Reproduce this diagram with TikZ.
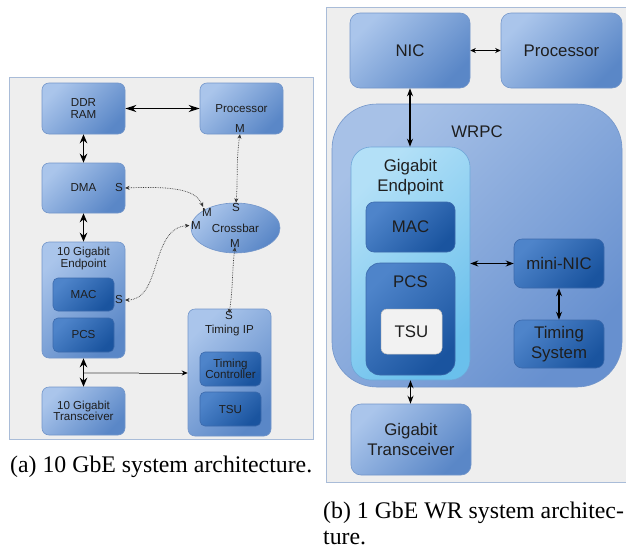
\documentclass[tikz,border=0pt]{standalone}
\usepackage{fontspec}
\setmainfont{Liberation Serif}
\newfontfamily\lsans{Liberation Sans}
\usetikzlibrary{arrows.meta,shapes.geometric,calc}
\definecolor{bgpanel}{HTML}{EEEEEE}
\definecolor{panelborder}{HTML}{A9BCD8}
\definecolor{boxA}{HTML}{AAC5EB}
\definecolor{boxB}{HTML}{5A87C7}
\definecolor{boxline}{HTML}{7396CA}
\definecolor{darkA}{HTML}{4E84CA}
\definecolor{darkB}{HTML}{1A549F}
\definecolor{darkline}{HTML}{3C6AAC}
\definecolor{lightA}{HTML}{B3E0F7}
\definecolor{lightB}{HTML}{6AC0EC}
\definecolor{lightline}{HTML}{6FA6D8}
\definecolor{wrpcA}{HTML}{A7C1E7}
\definecolor{wrpcB}{HTML}{6790CF}
\definecolor{tsufill}{HTML}{F2F2F2}
\definecolor{txt}{HTML}{1E1E1E}
\newcommand\smallsans{\lsans\fontsize{11.6}{11.5}\selectfont}
\newcommand\bigsans{\lsans\fontsize{16.8}{19.5}\selectfont}
\newcommand\capfont{\fontsize{23.8}{28}\selectfont}
\begin{document}
\begin{tikzpicture}[x=1pt,y=-1pt,
  panel/.style={draw=panelborder, fill=bgpanel, line width=0.8pt, inner sep=0pt},
  boxa/.style={draw=boxline, line width=0.6pt, rounded corners=7pt, top color=boxA, bottom color=boxB, shading angle=45, align=center, inner sep=0pt, text=txt, font=\smallsans},
  darka/.style={draw=darkline, line width=0.6pt, rounded corners=5pt, top color=darkA, bottom color=darkB, shading angle=45, align=center, inner sep=0pt, text=txt, font=\smallsans},
  boxb/.style={draw=boxline, line width=0.6pt, rounded corners=10pt, top color=boxA, bottom color=boxB, shading angle=45, align=center, inner sep=0pt, text=txt, font=\bigsans},
  darkb/.style={draw=darkline, line width=0.6pt, rounded corners=8pt, top color=darkA, bottom color=darkB, shading angle=45, align=center, inner sep=0pt, text=txt, font=\bigsans},
  lbla/.style={inner sep=0pt, text=txt, font=\smallsans, align=center},
  lblb/.style={inner sep=0pt, text=txt, font=\bigsans, align=center},
  harr/.style={{Stealth[length=11pt,width=7pt]}-{Stealth[length=11pt,width=7pt]}, line width=1.3pt, black},
  varr/.style={{Stealth[length=9pt,width=7.5pt]}-{Stealth[length=9pt,width=7.5pt]}, line width=1.8pt, black},
  thinarr/.style={{Stealth[length=8pt,width=6pt]}-{Stealth[length=8pt,width=6pt]}, line width=1.2pt, black},
  dotarr/.style={{Stealth[length=4.5pt,width=4pt]}-{Stealth[length=4.5pt,width=4pt]}, line width=0.7pt, densely dotted, black!80},
  caption/.style={inner sep=0pt, font=\capfont, anchor=base west}
]
\useasboundingbox (0,0) rectangle (626,549);

% ---------------- panel (a)
\node[panel, minimum width=304, minimum height=362] (pa) at (161,258) {};
\node[boxa, minimum width=83, minimum height=51] (ddr) at (83.5,108.5) {DDR\\RAM};
\node[boxa, minimum width=83, minimum height=51] (procA) at (241.5,108.5) {Processor};
\node[boxa, minimum width=83, minimum height=50] (dma) at (83.5,188) {DMA};
\node[boxa, shape=ellipse, minimum width=89, minimum height=50] (xbar) at (235.5,228) {Crossbar};
\node[boxa, minimum width=83, minimum height=116] (epA) at (83.5,300) {};
\node[lbla] (epAt) at (83.5,258.5) {10 Gigabit\\Endpoint};
\node[darka, minimum width=61, minimum height=33] (macA) at (83.5,294.5) {MAC};
\node[darka, minimum width=61, minimum height=34] (pcsA) at (83.5,335) {PCS};
\node[boxa, minimum width=83, minimum height=48] (trxA) at (83.5,411) {10 Gigabit\\Transceiver};
\node[boxa, minimum width=83, minimum height=127] (tipA) at (229.5,372.5) {};
\node[lbla] (tipAt) at (229.5,330) {Timing IP};
\node[darka, minimum width=61, minimum height=34] (tcA) at (230.5,369) {Timing\\Controller};
\node[darka, minimum width=61, minimum height=34] (tsuA) at (230.5,409) {TSU};

% port labels
\node[lbla] (pM) at (240,129) {M};
\node[lbla] (dmaS) at (119,188) {S};
\node[lbla] (epS) at (119,300) {S};
\node[lbla] (xS) at (236,208) {S};
\node[lbla] (xM1) at (207,213) {M};
\node[lbla] (xM2) at (196,225.5) {M};
\node[lbla] (xM3) at (235,244) {M};
\node[lbla] (tS) at (229,316) {S};

% solid arrows (a)
\coordinate (tap) at ($(epA.south)!0.517!(trxA.north)$);
\draw[black!70, line width=0.7pt, -{Stealth[length=6pt,width=5pt,black]}] (tap) -- (tap -| tipA.west);
\draw[black!30, line width=1.6pt] (tap) -- ++(55,0);
\draw[varr] (epA.south) -- (trxA.north);
\draw[harr] (ddr.east) -- (procA.west);
\draw[varr] (ddr.south) -- (dma.north);
\draw[varr] (dma.south) -- (epA.north);

% dotted arrows (a)
\draw[dotarr] ([yshift=-1pt]pM.south) .. controls (236,160) and (238,180) .. ([yshift=1pt]xS.north);
\draw[dotarr] ([xshift=2pt]dmaS.east) .. controls (175,186) and (196,190) .. ([xshift=-4pt,yshift=2pt]xM1.north);
\draw[dotarr] ([xshift=2pt]epS.east) .. controls (162,300) and (150,228) .. ([xshift=-1.5pt]xM2.west);
\draw[dotarr] ([yshift=1pt]xM3.south) .. controls (232,270) and (233,290) .. ([yshift=-1.5pt]tS.north);

\node[caption] (capA) at (10,472.5) {(a) 10 GbE system architecture.};

% ---------------- panel (b)
\node[panel, minimum width=304, minimum height=475] (pb) at (478,244.5) {};
\node[boxb, minimum width=120, minimum height=75] (nic) at (410,50.5) {NIC};
\node[boxb, minimum width=121, minimum height=75] (procB) at (561.5,50.5) {Processor};
\node[draw=boxline, line width=0.6pt, rounded corners=45pt, top color=wrpcA, bottom color=wrpcB, shading angle=45, inner sep=0pt, minimum width=290, minimum height=283] (wrpc) at (477,245.5) {};
\node[lblb] (wrpct) at (477,132) {WRPC};
\node[draw=lightline, line width=0.6pt, rounded corners=20pt, top color=lightA, bottom color=lightB, shading angle=45, inner sep=0pt, minimum width=119, minimum height=233] (epB) at (410.5,263.5) {};
\node[lblb] (epBt) at (410.5,177) {Gigabit\\Endpoint};
\node[darkb, minimum width=89, minimum height=50] (macB) at (410.5,227) {MAC};
\node[darkb, rounded corners=14pt, minimum width=89, minimum height=112] (pcsB) at (410.5,319) {};
\node[lblb] (pcsBt) at (410.5,282) {PCS};
\node[draw=black!25, line width=0.5pt, fill=tsufill, rounded corners=6pt, inner sep=0pt, minimum width=61, minimum height=45, font=\bigsans, text=txt] (tsuB) at (411.5,331.5) {TSU};
\node[darkb, minimum width=90, minimum height=49] (mnic) at (559,263.5) {mini-NIC};
\node[darkb, minimum width=90, minimum height=48] (tsys) at (559,344) {Timing\\System};
\node[boxb, minimum width=120, minimum height=71] (trxB) at (411,439.5) {Gigabit\\Transceiver};

\draw[{Stealth[length=5.5pt,width=5pt]}-{Stealth[length=5.5pt,width=5pt]}, line width=1pt] (nic.east) -- (procB.west);
\draw[thinarr] (nic.south) -- (nic.south |- epB.north);
\draw[thinarr] (epB.east) -- (epB.east -| mnic.west);
\draw[thinarr] (mnic.south) -- (tsys.north);
\draw[thinarr] (epB.south) -- (epB.south |- trxB.north);

\node[caption] (capB1) at (323,518) {(b) 1 GbE WR system architec-};
\node[caption] (capB2) at (323,544) {ture.};
\end{tikzpicture}
\end{document}
